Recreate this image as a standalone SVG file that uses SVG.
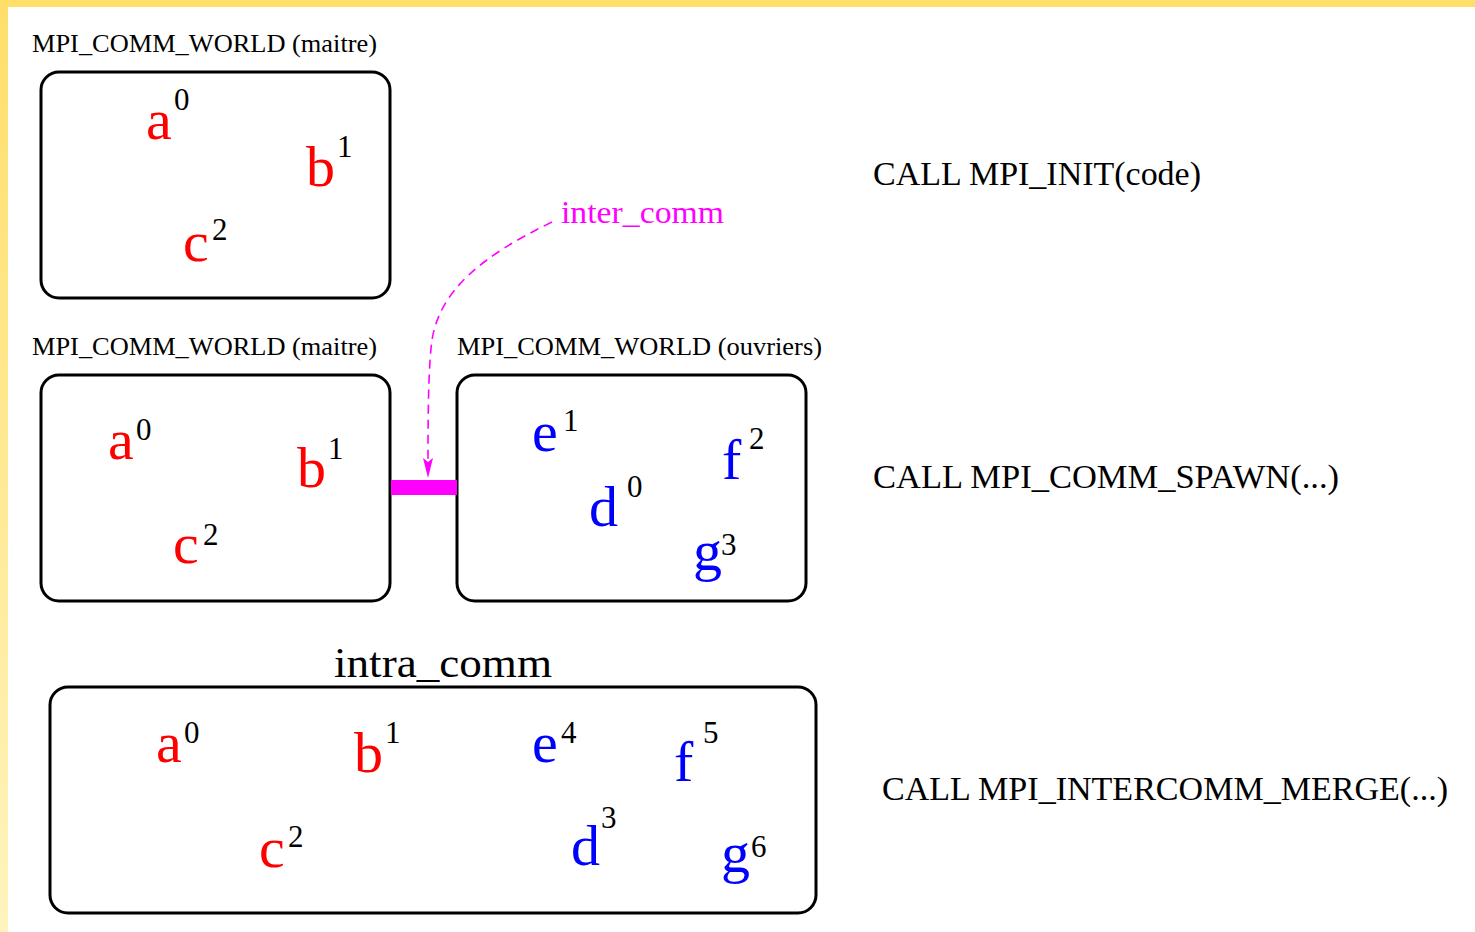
<svg xmlns="http://www.w3.org/2000/svg" width="1475" height="932" viewBox="0 0 1475 932">
<defs>
<linearGradient id="lb" x1="0" y1="0" x2="0" y2="1">
<stop offset="0" stop-color="#FFDE6A"/>
<stop offset="1" stop-color="#FFF4BE"/>
</linearGradient>
<marker id="arr" markerUnits="userSpaceOnUse" markerWidth="22" markerHeight="12" refX="20" refY="5" orient="auto" viewBox="0 0 22 10">
<path d="M0,0 L4,5 L0,10 L20,5 Z" fill="#FF00FF"/>
</marker>
</defs>
<style>
.box{fill:none;stroke:#000;stroke-width:3}
.lbl{font-family:"Liberation Serif","Times New Roman",serif;fill:#000}
.small{font-size:26px}
.call{font-size:33px}
.r{font-family:"Liberation Serif","Times New Roman",serif;font-size:58px;fill:#FF0000}
.b{font-family:"Liberation Serif","Times New Roman",serif;font-size:58px;fill:#0000FF}
.s{font-family:"Liberation Serif","Times New Roman",serif;font-size:31px;fill:#000}
</style>
<rect width="1475" height="932" fill="#FFFFFF"/>
<rect x="0" y="0" width="8" height="932" fill="url(#lb)"/>
<rect x="0" y="0" width="1475" height="7" fill="#FFDE6A"/>

<g id="world1">
<text class="lbl small" x="32" y="52" textLength="345" lengthAdjust="spacingAndGlyphs">MPI_COMM_WORLD (maitre)</text>
<rect class="box" x="41" y="72" width="349" height="226" rx="18"/>
<text class="r" x="146" y="139">a</text><text class="s" x="174" y="110">0</text>
<text class="r" x="306" y="186">b</text><text class="s" x="337" y="157">1</text>
<text class="r" x="183" y="261">c</text><text class="s" x="212" y="240">2</text>
</g>

<g id="world2">
<text class="lbl small" x="32" y="355" textLength="345" lengthAdjust="spacingAndGlyphs">MPI_COMM_WORLD (maitre)</text>
<rect class="box" x="41" y="375" width="349" height="226" rx="18"/>
<text class="r" x="108" y="459">a</text><text class="s" x="136" y="440">0</text>
<text class="r" x="297" y="487">b</text><text class="s" x="328" y="459">1</text>
<text class="r" x="173" y="563">c</text><text class="s" x="203" y="545">2</text>
</g>

<g id="workers">
<text class="lbl small" x="457" y="355" textLength="365" lengthAdjust="spacingAndGlyphs">MPI_COMM_WORLD (ouvriers)</text>
<rect class="box" x="457" y="375" width="349" height="226" rx="18"/>
<text class="b" x="532" y="451">e</text><text class="s" x="563" y="431">1</text>
<text class="b" x="722" y="479">f</text><text class="s" x="749" y="449">2</text>
<text class="b" x="589" y="526">d</text><text class="s" x="627" y="497">0</text>
<text class="b" x="693" y="570">g</text><text class="s" x="721" y="555">3</text>
</g>

<g id="bridge">
<rect x="391" y="480" width="66" height="15" fill="#FF00FF"/>
</g>

<g id="intra">
<text class="lbl" x="334" y="677" font-size="43" textLength="218" lengthAdjust="spacingAndGlyphs">intra_comm</text>
<rect class="box" x="50" y="687" width="766" height="226" rx="18"/>
<text class="r" x="156" y="762">a</text><text class="s" x="184" y="743">0</text>
<text class="r" x="354" y="772">b</text><text class="s" x="385" y="743">1</text>
<text class="r" x="259" y="867">c</text><text class="s" x="288" y="847">2</text>
<text class="b" x="532" y="762">e</text><text class="s" x="561" y="743">4</text>
<text class="b" x="674" y="781">f</text><text class="s" x="703" y="743">5</text>
<text class="b" x="571" y="865">d</text><text class="s" x="601" y="828">3</text>
<text class="b" x="721" y="872">g</text><text class="s" x="751" y="857">6</text>
</g>

<g id="calls">
<text class="lbl call" x="873" y="185" textLength="328" lengthAdjust="spacingAndGlyphs">CALL MPI_INIT(code)</text>
<text class="lbl call" x="873" y="488" textLength="466" lengthAdjust="spacingAndGlyphs">CALL MPI_COMM_SPAWN(...)</text>
<text class="lbl call" x="882" y="800" textLength="566" lengthAdjust="spacingAndGlyphs">CALL MPI_INTERCOMM_MERGE(...)</text>
</g>

<g id="inter_comm_label">
<text class="lbl" x="561" y="223" font-size="31" style="fill:#FF00FF" textLength="163" lengthAdjust="spacingAndGlyphs">inter_comm</text>
</g>

<g id="connectors">
<path d="M552,222 C482,256 440,290 432,340 C428,370 428,420 428,478" fill="none" stroke="#FF00FF" stroke-width="1.6" stroke-dasharray="9,6" marker-end="url(#arr)"/>
</g>
</svg>
